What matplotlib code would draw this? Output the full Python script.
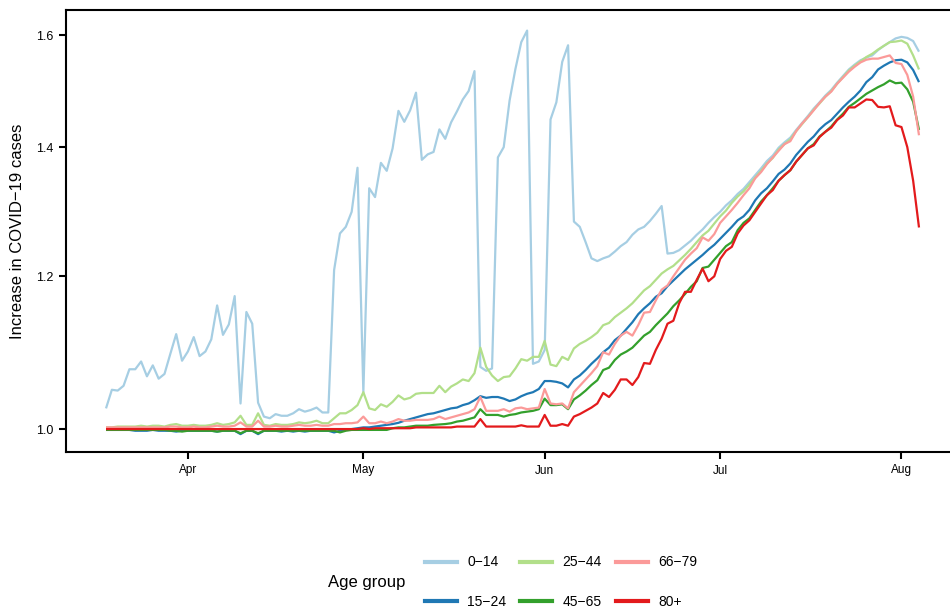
import matplotlib
matplotlib.use("Agg")
import matplotlib.pyplot as plt
import matplotlib.dates as mdates
from matplotlib.lines import Line2D
import numpy as np
import pandas as pd

start_date = "2020-03-18"
groups = ["0\u221214", "15\u221224", "25\u221244", "45\u221265", "66\u221279", "80+"]
colors = ["#A6CEE3", "#1F78B4", "#B2DF8A", "#33A02C", "#FB9A99", "#E31A1C"]

g0_14 = [1.025, 1.048, 1.047, 1.053, 1.074, 1.074, 1.084, 1.065, 1.079, 1.062,
         1.068, 1.094, 1.120, 1.085, 1.097, 1.116, 1.091, 1.097, 1.113, 1.159,
         1.119, 1.133, 1.172, 1.031, 1.150, 1.134, 1.032, 1.015, 1.013, 1.018,
         1.016, 1.016, 1.019, 1.024, 1.021, 1.023, 1.026, 1.020, 1.020, 1.209,
         1.263, 1.273, 1.296, 1.366, 1.045, 1.333, 1.319, 1.374, 1.361, 1.398,
         1.462, 1.443, 1.463, 1.494, 1.379, 1.388, 1.392, 1.430, 1.414, 1.442,
         1.461, 1.482, 1.497, 1.533, 1.077, 1.072, 1.075, 1.383, 1.400, 1.480,
         1.537, 1.587, 1.609, 1.081, 1.084, 1.099, 1.447, 1.477, 1.550, 1.581,
         1.281, 1.273, 1.250, 1.226, 1.222, 1.226, 1.229, 1.236, 1.244, 1.250,
         1.261, 1.269, 1.273, 1.282, 1.293, 1.305, 1.233, 1.234, 1.238, 1.245,
         1.252, 1.261, 1.269, 1.279, 1.288, 1.296, 1.306, 1.314, 1.324, 1.332,
         1.343, 1.354, 1.365, 1.377, 1.386, 1.399, 1.408, 1.416, 1.429, 1.441,
         1.453, 1.466, 1.477, 1.489, 1.499, 1.512, 1.524, 1.536, 1.545, 1.553,
         1.558, 1.562, 1.572, 1.580, 1.587, 1.594, 1.597, 1.595, 1.589, 1.569]

g15_24 = [0.999, 0.999, 0.999, 0.999, 0.999, 0.998, 0.998, 0.998, 0.999, 0.998,
          0.998, 0.998, 0.997, 0.998, 0.998, 0.998, 0.998, 0.998, 0.998, 0.997,
          0.998, 0.998, 0.998, 0.994, 0.998, 0.998, 0.994, 0.998, 0.998, 0.998,
          0.997, 0.998, 0.997, 0.998, 0.997, 0.998, 0.998, 0.998, 0.998, 0.996,
          0.998, 0.999, 1.000, 1.001, 1.002, 1.002, 1.003, 1.004, 1.005, 1.006,
          1.0075, 1.010, 1.012, 1.014, 1.016, 1.018, 1.019, 1.021, 1.023, 1.025,
          1.026, 1.029, 1.031, 1.035, 1.040, 1.038, 1.039, 1.039, 1.037, 1.034,
          1.036, 1.040, 1.043, 1.045, 1.049, 1.059, 1.059, 1.058, 1.056, 1.051,
          1.061, 1.066, 1.073, 1.081, 1.088, 1.096, 1.102, 1.112, 1.118, 1.127,
          1.136, 1.147, 1.155, 1.162, 1.171, 1.176, 1.186, 1.194, 1.202, 1.210,
          1.217, 1.224, 1.231, 1.239, 1.246, 1.255, 1.264, 1.273, 1.283, 1.289,
          1.299, 1.314, 1.325, 1.333, 1.344, 1.356, 1.363, 1.373, 1.387, 1.398,
          1.409, 1.418, 1.430, 1.439, 1.446, 1.457, 1.468, 1.478, 1.487, 1.498,
          1.513, 1.522, 1.536, 1.543, 1.549, 1.553, 1.554, 1.549, 1.535, 1.513]

g25_44 = [1.002, 1.002, 1.003, 1.003, 1.003, 1.003, 1.004, 1.003, 1.004, 1.004,
          1.003, 1.005, 1.006, 1.004, 1.004, 1.005, 1.004, 1.004, 1.005, 1.007,
          1.005, 1.006, 1.008, 1.016, 1.005, 1.005, 1.019, 1.005, 1.004, 1.006,
          1.005, 1.005, 1.006, 1.008, 1.007, 1.008, 1.010, 1.007, 1.007, 1.013,
          1.019, 1.019, 1.023, 1.029, 1.045, 1.025, 1.023, 1.030, 1.027, 1.033,
          1.041, 1.036, 1.038, 1.043, 1.044, 1.044, 1.044, 1.053, 1.045, 1.052,
          1.056, 1.061, 1.059, 1.069, 1.102, 1.077, 1.066, 1.059, 1.064, 1.065,
          1.075, 1.087, 1.085, 1.090, 1.090, 1.111, 1.080, 1.078, 1.090, 1.086,
          1.101, 1.107, 1.111, 1.116, 1.122, 1.132, 1.135, 1.143, 1.149, 1.155,
          1.162, 1.171, 1.180, 1.186, 1.195, 1.204, 1.210, 1.215, 1.223, 1.231,
          1.240, 1.250, 1.260, 1.267, 1.278, 1.289, 1.298, 1.310, 1.320, 1.328,
          1.339, 1.350, 1.361, 1.373, 1.382, 1.396, 1.405, 1.413, 1.427, 1.439,
          1.451, 1.464, 1.475, 1.487, 1.497, 1.510, 1.522, 1.534, 1.543, 1.551,
          1.559, 1.565, 1.573, 1.580, 1.587, 1.588, 1.590, 1.584, 1.562, 1.536]

g45_65 = [0.999, 0.999, 0.999, 0.999, 0.999, 0.999, 0.999, 0.999, 0.999, 0.999,
          0.999, 0.998, 0.998, 0.997, 0.998, 0.998, 0.998, 0.998, 0.998, 0.997,
          0.998, 0.998, 0.998, 0.995, 0.998, 0.998, 0.995, 0.998, 0.998, 0.998,
          0.998, 0.998, 0.998, 0.998, 0.998, 0.998, 0.998, 0.998, 0.998, 0.998,
          0.996, 0.998, 0.999, 0.999, 0.999, 0.999, 0.999, 0.999, 0.999, 1.001,
          1.002, 1.002, 1.003, 1.004, 1.004, 1.004, 1.005, 1.0055, 1.006, 1.007,
          1.009, 1.010, 1.012, 1.014, 1.024, 1.017, 1.017, 1.017, 1.015, 1.017,
          1.018, 1.020, 1.021, 1.022, 1.024, 1.037, 1.029, 1.029, 1.030, 1.024,
          1.036, 1.041, 1.047, 1.054, 1.060, 1.073, 1.076, 1.086, 1.093, 1.097,
          1.102, 1.110, 1.118, 1.123, 1.132, 1.140, 1.148, 1.158, 1.166, 1.175,
          1.185, 1.193, 1.212, 1.214, 1.224, 1.234, 1.244, 1.250, 1.268, 1.279,
          1.286, 1.299, 1.312, 1.322, 1.333, 1.345, 1.354, 1.362, 1.376, 1.387,
          1.398, 1.405, 1.418, 1.426, 1.435, 1.447, 1.457, 1.469, 1.476, 1.484,
          1.492, 1.498, 1.504, 1.509, 1.516, 1.511, 1.512, 1.500, 1.478, 1.429]

g66_79 = [1.002, 1.002, 1.002, 1.002, 1.002, 1.002, 1.002, 1.002, 1.002, 1.002,
          1.002, 1.003, 1.003, 1.002, 1.002, 1.003, 1.002, 1.002, 1.003, 1.004,
          1.003, 1.003, 1.004, 1.008, 1.003, 1.003, 1.010, 1.003, 1.003, 1.004,
          1.003, 1.003, 1.004, 1.005, 1.004, 1.004, 1.005, 1.004, 1.004, 1.006,
          1.006, 1.007, 1.007, 1.008, 1.015, 1.007, 1.007, 1.009, 1.007, 1.009,
          1.012, 1.010, 1.010, 1.011, 1.011, 1.011, 1.012, 1.015, 1.012, 1.014,
          1.016, 1.018, 1.020, 1.024, 1.039, 1.022, 1.022, 1.022, 1.024, 1.021,
          1.025, 1.026, 1.024, 1.025, 1.026, 1.049, 1.031, 1.030, 1.031, 1.025,
          1.045, 1.053, 1.061, 1.069, 1.078, 1.096, 1.093, 1.107, 1.118, 1.123,
          1.118, 1.132, 1.149, 1.150, 1.166, 1.181, 1.187, 1.200, 1.212, 1.224,
          1.233, 1.241, 1.257, 1.252, 1.262, 1.279, 1.289, 1.299, 1.310, 1.322,
          1.333, 1.349, 1.359, 1.372, 1.383, 1.394, 1.405, 1.410, 1.427, 1.440,
          1.451, 1.463, 1.476, 1.487, 1.496, 1.510, 1.521, 1.532, 1.541, 1.549,
          1.554, 1.556, 1.556, 1.559, 1.562, 1.548, 1.546, 1.526, 1.487, 1.420]

g80p = [1.000, 1.000, 1.000, 1.000, 1.000, 1.000, 1.000, 1.000, 1.000, 1.000,
        1.000, 1.000, 1.000, 1.000, 1.000, 1.000, 1.000, 1.000, 1.000, 1.000,
        1.000, 1.000, 1.000, 1.000, 1.000, 1.000, 1.000, 1.000, 1.000, 1.000,
        1.000, 1.000, 1.000, 1.000, 1.000, 1.000, 1.000, 1.000, 1.000, 1.000,
        1.000, 1.000, 1.000, 1.000, 1.001, 1.000, 1.001, 1.001, 1.001, 1.001,
        1.001, 1.001, 1.001, 1.002, 1.002, 1.002, 1.002, 1.002, 1.002, 1.002,
        1.003, 1.003, 1.003, 1.003, 1.012, 1.003, 1.003, 1.003, 1.003, 1.003,
        1.003, 1.0045, 1.003, 1.003, 1.003, 1.017, 1.004, 1.004, 1.006, 1.004,
        1.015, 1.018, 1.022, 1.026, 1.031, 1.044, 1.039, 1.048, 1.061, 1.061,
        1.054, 1.064, 1.082, 1.081, 1.099, 1.114, 1.134, 1.138, 1.162, 1.178,
        1.178, 1.195, 1.211, 1.193, 1.200, 1.225, 1.237, 1.243, 1.263, 1.275,
        1.283, 1.296, 1.309, 1.322, 1.330, 1.345, 1.354, 1.362, 1.376, 1.387,
        1.398, 1.403, 1.417, 1.426, 1.433, 1.446, 1.454, 1.468, 1.468, 1.475,
        1.482, 1.481, 1.469, 1.468, 1.470, 1.437, 1.434, 1.400, 1.345, 1.272]

series = [g0_14, g15_24, g25_44, g45_65, g66_79, g80p]

y_ticks = [1.0, 1.2, 1.4, 1.6]
y_tick_labels = ["1.0", "1.2", "1.4", "1.6"]
x_tick_dates = ["2020-04-01", "2020-05-01", "2020-06-01", "2020-07-01", "2020-08-01"]
x_tick_labels = ["Apr", "May", "Jun", "Jul", "Aug"]

plt.rcParams['font.family'] = ['Liberation Sans', 'DejaVu Sans']

W, H = 950, 610
fig = plt.figure(figsize=(W / 100, H / 100), dpi=100)
L, R, T, B = 66, 950, 10, 452
ax = fig.add_axes([L / W, 1 - B / H, (R - L) / W, (B - T) / H])

for vals, c in zip(series, colors):
    dates = pd.date_range(start_date, periods=len(vals), freq="D")
    ax.plot(dates, vals, color=c, lw=1.6, solid_joinstyle="round", solid_capstyle="butt")

ax.set_yscale("log")
ax.set_ylim(0.973, 1.649)
ax.set_yticks(y_ticks)
ax.set_yticklabels(y_tick_labels, fontsize=9)
ax.yaxis.set_minor_locator(matplotlib.ticker.NullLocator())

x0 = mdates.date2num(pd.Timestamp(start_date))
ax.set_xlim(x0 - 6.84, x0 + 144.3)
ax.set_xticks([mdates.date2num(pd.Timestamp(d)) for d in x_tick_dates])
ax.set_xticklabels(x_tick_labels, fontsize=8.5)

ax.spines["right"].set_visible(False)
for s in ["left", "top", "bottom"]:
    ax.spines[s].set_linewidth(1.5)
ax.tick_params(axis="both", direction="out", length=5, width=1.5, colors="black", pad=4)

ax.set_ylabel("Increase in COVID\u221219 cases", fontsize=12, labelpad=8)

handles = [Line2D([0], [0], color=c, lw=3) for c in colors]
fig.legend(handles, groups, loc="center", bbox_to_anchor=(561 / W, 1 - 582 / H),
           ncol=3, frameon=False, fontsize=10, labelspacing=1.8, handlelength=2.3,
           handletextpad=0.75, columnspacing=1.0, borderpad=0)
fig.text(328 / W, 1 - 583 / H, "Age group", fontsize=12, ha="left", va="center")

fig.savefig("out.png", dpi=100)
